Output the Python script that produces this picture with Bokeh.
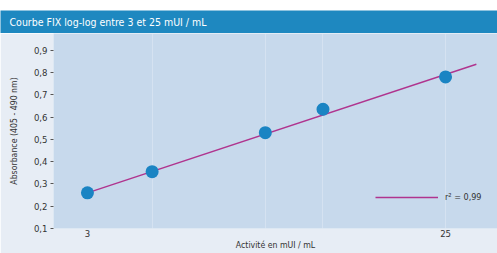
from bokeh.plotting import figure
from bokeh.layouts import column
from bokeh.models import FixedTicker, Legend, LegendItem, Range1d
from bokeh.core.properties import value
from bokeh.embed import file_html
from bokeh.resources import INLINE

# ---- data ----
activity = [3, 4.4, 8.6, 12.1, 25]
absorbance = [0.26, 0.355, 0.53, 0.635, 0.78]
fit_activity = [3, 30]
fit_absorbance = [0.26, 0.837]
x_ticks = [3, 25]
x_tick_labels = ["3", "25"]
y_ticks = [0.1, 0.2, 0.3, 0.4, 0.5, 0.6, 0.7, 0.8, 0.9]
y_tick_labels = ["0,1", "0,2", "0,3", "0,4", "0,5", "0,6", "0,7", "0,8", "0,9"]
title_text = "Courbe FIX log-log entre 3 et 25 mUI / mL"
legend_text = "r² = 0,99"

FONT = "DejaVu Sans Condensed"
TXT = "#333333"
W = 497

# ---- header bar ----
head = figure(width=W, height=33, x_range=Range1d(0, W), y_range=Range1d(0, 23),
              output_backend="svg", toolbar_location=None,
              x_axis_location=None, y_axis_location=None,
              min_border_left=0, min_border_right=0,
              min_border_top=10, min_border_bottom=0)
head.frame_align = False
head.title.visible = False
head.outline_line_color = None
head.background_fill_color = "#1e88c0"
head.border_fill_color = "white"
head.xgrid.grid_line_color = None
head.ygrid.grid_line_color = None
head.text(x=[9], y=[11.5], text=[title_text], text_color="white",
          text_font=value(FONT), text_font_size="10.5px", text_baseline="middle")

# ---- main chart ----
p = figure(width=W, height=220, x_axis_type="log",
           x_range=Range1d(2.454, 34.0), y_range=Range1d(0.1, 0.975),
           output_backend="svg", toolbar_location=None,
           min_border_left=53, min_border_right=0,
           min_border_top=0, min_border_bottom=25)
p.frame_align = False
p.title.visible = False
p.outline_line_color = None
p.background_fill_color = "#c7d9ec"
p.border_fill_color = "#e7edf5"

p.xaxis.ticker = FixedTicker(ticks=x_ticks)
p.xaxis.major_label_overrides = {t: l for t, l in zip(x_ticks, x_tick_labels)}
p.xaxis.axis_line_color = None
p.xaxis.major_tick_line_color = None
p.xaxis.minor_tick_line_color = None
p.xaxis.major_tick_out = 0
p.xaxis.major_tick_in = 0
p.xaxis.major_label_standoff = 1
p.xaxis.axis_label = "Activité en mUI / mL"
p.xaxis.axis_label_standoff = 0

p.yaxis.ticker = FixedTicker(ticks=y_ticks)
p.yaxis.major_label_overrides = {t: l for t, l in zip(y_ticks, y_tick_labels)}
p.yaxis.axis_line_color = None
p.yaxis.major_tick_out = 3
p.yaxis.major_tick_in = 0
p.yaxis.major_tick_line_color = "#555555"
p.yaxis.minor_tick_line_color = None
p.yaxis.major_label_standoff = 3
p.yaxis.axis_label = "Absorbance (405 - 490 nm)"
p.yaxis.axis_label_standoff = 12

for ax in (p.xaxis[0], p.yaxis[0]):
    ax.major_label_text_font = FONT
    ax.major_label_text_font_size = "9.5px"
    ax.major_label_text_color = TXT
    ax.axis_label_text_font = FONT
    ax.axis_label_text_font_size = "8.7px"
    ax.axis_label_text_font_style = "normal"
    ax.axis_label_text_color = TXT

p.xgrid.ticker = FixedTicker(ticks=activity[1:])
p.xgrid.grid_line_color = "white"
p.xgrid.grid_line_alpha = 0.25
p.ygrid.grid_line_color = None

fit = p.line(fit_activity, fit_absorbance, line_color="#b0348e", line_width=1.4)
p.scatter(activity, absorbance, size=13, fill_color="#1a84c3", line_color=None)

legend = Legend(items=[LegendItem(label=legend_text, renderers=[fit])],
                location=(322, 25), padding=0, margin=0, spacing=0,
                glyph_width=63, glyph_height=12, label_height=12,
                label_standoff=7, border_line_color=None,
                background_fill_alpha=0,
                label_text_font=FONT, label_text_font_size="9px",
                label_text_color=TXT)
p.add_layout(legend, "center")

layout = column(head, p, spacing=0)
open("out.html", "w").write(file_html(layout, INLINE))
